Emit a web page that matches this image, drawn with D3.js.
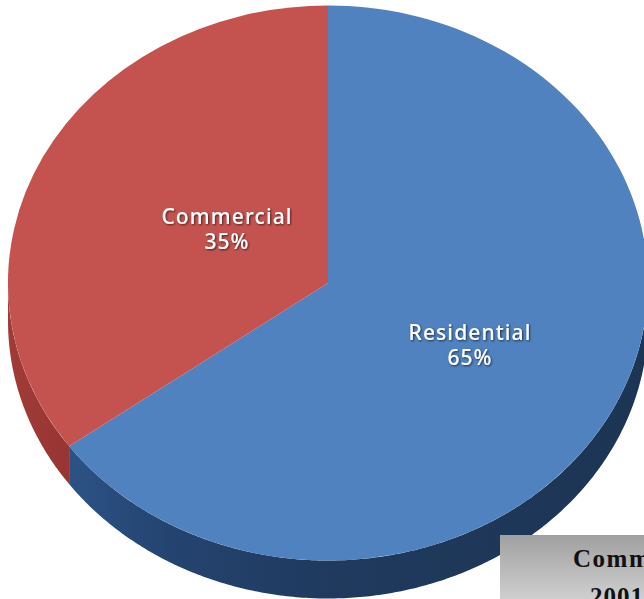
<!DOCTYPE html>
<html>
<head>
<meta charset="utf-8">
<script src="https://cdn.jsdelivr.net/npm/d3@7"></script>
<style>
html, body { margin: 0; padding: 0; background: #fff; overflow: hidden; }
svg { display: block; }
</style>
</head>
<body>
<svg id="chart" width="644" height="599"></svg>
<script>
// Building-use shares
const categories = ["Residential", "Commercial"];
const shares = [65, 35];
const topColors = ["#5082c0", "#c4534f"];
const titleLines = ["Comm", "2001"];

const width = 644, height = 599;
const cx = 328, cy = 283, rx = 320, ry = 277.5, depth = 38;

const svg = d3.select("#chart");
const defs = svg.append("defs");

// Rim shading for the extruded edge of each slice
const rimStops = [
  [["0%", "#2c5285"], ["18%", "#24436f"], ["45%", "#1f3a5e"], ["100%", "#1d3554"]],
  [["0%", "#a03b38"], ["100%", "#983532"]]
];
rimStops.forEach((stops, i) => {
  const g = defs.append("linearGradient")
    .attr("id", "rim" + i)
    .attr("gradientUnits", "userSpaceOnUse")
    .attr("x1", i === 0 ? 70 : 8).attr("x2", i === 0 ? 644 : 70)
    .attr("y1", 0).attr("y2", 0);
  stops.forEach(([o, c]) => g.append("stop").attr("offset", o).attr("stop-color", c));
});

const boxGrad = defs.append("linearGradient")
  .attr("id", "boxFill").attr("x1", 0).attr("x2", 0).attr("y1", 0).attr("y2", 1);
boxGrad.append("stop").attr("offset", "0%").attr("stop-color", "#a0a0a0");
boxGrad.append("stop").attr("offset", "100%").attr("stop-color", "#cfcfcf");

const shadow = defs.append("filter").attr("id", "labelShadow")
  .attr("x", "-10%").attr("y", "-30%").attr("width", "120%").attr("height", "160%");
shadow.append("feDropShadow")
  .attr("dx", 1).attr("dy", 1).attr("stdDeviation", 0.8)
  .attr("flood-color", "#000").attr("flood-opacity", 0.65);

const slices = d3.pie().sort(null)(shares);
const xAt = a => cx + rx * Math.sin(a);
const yAt = a => cy - ry * Math.cos(a);

// Side wall: the part of each slice's rim on the near half of the ellipse
const rimPath = d => {
  const a0 = Math.max(d.startAngle, Math.PI / 2);
  const a1 = Math.min(d.endAngle, 3 * Math.PI / 2);
  if (a1 <= a0) return null;
  const angles = d3.range(a0, a1, 0.01).concat([a1]);
  const p = d3.path();
  angles.forEach((a, i) => i ? p.lineTo(xAt(a), yAt(a)) : p.moveTo(xAt(a), yAt(a)));
  angles.slice().reverse().forEach(a => p.lineTo(xAt(a), yAt(a) + depth));
  p.closePath();
  return p.toString();
};

svg.append("g").selectAll("path").data(slices).join("path")
  .attr("d", rimPath)
  .attr("fill", (d, i) => `url(#rim${i})`);

// Top face: a unit-radius pie stretched into the ellipse
const arc = d3.arc().innerRadius(0).outerRadius(1);
svg.append("g")
  .attr("transform", `translate(${cx},${cy}) scale(${rx},${ry})`)
  .selectAll("path").data(slices).join("path")
  .attr("d", arc)
  .attr("fill", (d, i) => topColors[i]);

// Slice labels
const labelAnchors = [[470, 340], [227, 224]];
const labels = svg.append("g")
  .attr("font-family", "'Noto Sans', sans-serif")
  .attr("font-size", 21)
  .attr("font-weight", 500)
  .attr("fill", "#fff")
  .attr("text-anchor", "middle")
  .attr("filter", "url(#labelShadow)");
slices.forEach((d, i) => {
  const [x, y] = labelAnchors[i];
  labels.append("text").attr("x", x).attr("y", y)
    .attr("letter-spacing", 1.1).text(categories[i]);
  labels.append("text").attr("x", x).attr("y", y + 25)
    .attr("letter-spacing", 1).text(shares[i] + "%");
});

// Caption panel in the lower right corner; its text runs past the page edge
svg.append("rect")
  .attr("x", 500).attr("y", 535).attr("width", 144).attr("height", 64)
  .attr("fill", "url(#boxFill)");
const caption = svg.append("g")
  .attr("font-family", "'Liberation Serif', serif")
  .attr("font-weight", "bold")
  .attr("font-size", 25)
  .attr("fill", "#111");
caption.append("text").attr("x", 573).attr("y", 567).attr("letter-spacing", 1.5).text(titleLines[0]);
caption.append("text").attr("x", 590).attr("y", 605).attr("letter-spacing", 1).text(titleLines[1]);
</script>
</body>
</html>
